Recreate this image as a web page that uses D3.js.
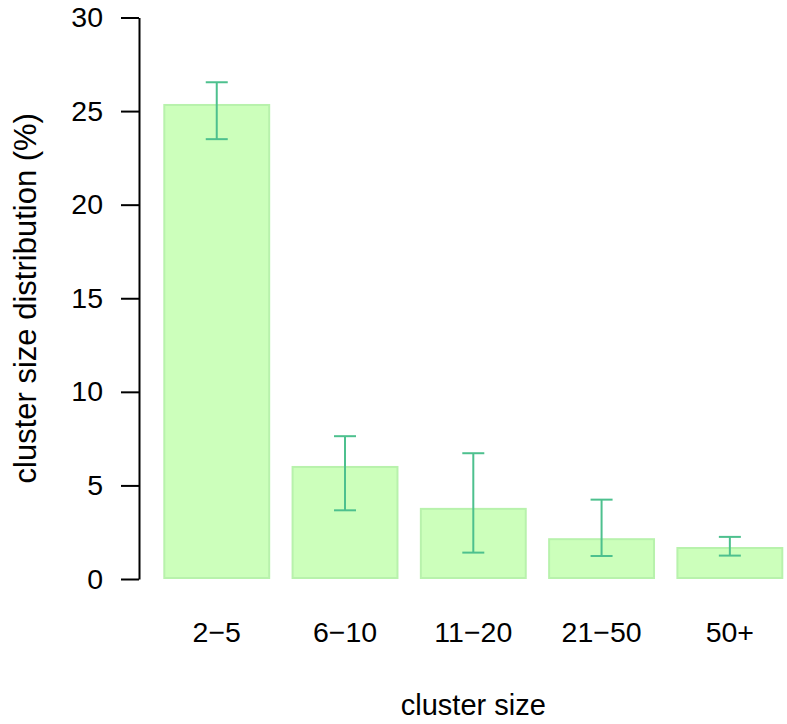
<!DOCTYPE html>
<html>
<head>
<meta charset="utf-8">
<script src="https://cdn.jsdelivr.net/npm/d3@7"></script>
<style>
  body { margin: 0; background: #fff; }
  svg text { font-family: "Liberation Sans", Arial, sans-serif; fill: #000; }
</style>
</head>
<body>
<div id="chart"></div>
<script>
// cluster size distribution
var categories = ["2\u22125", "6\u221210", "11\u221220", "21\u221250", "50+"];
var values = [25.38, 6.04, 3.80, 2.18, 1.71];
var err_lo = [23.50, 3.67, 1.41, 1.23, 1.25];
var err_hi = [26.54, 7.63, 6.72, 4.24, 2.25];
var y_ticks = [0, 5, 10, 15, 20, 25, 30];

var W = 787, H = 724;
var font_size = 28.5;

var svg = d3.select("#chart").append("svg")
    .attr("width", W)
    .attr("height", H);

var y = d3.scaleLinear()
    .domain([0, 30])
    .range([579, 17.5]);

// bars (R barplot style, space 0.2)
var x = d3.scaleBand()
    .domain(categories)
    .range([163.3, 783.3])
    .paddingInner(0.2 / 1.2)
    .paddingOuter(0);

var mid = function(c){ return x(c) + x.bandwidth() / 2; };

var data = categories.map(function(c, i){
    return { cat: c, val: values[i], lo: err_lo[i], hi: err_hi[i] };
});

// bars
svg.append("g")
    .selectAll("rect")
    .data(data)
    .enter()
    .append("rect")
    .attr("x", function(d){ return x(d.cat) + 1; })
    .attr("y", function(d){ return y(d.val) + 1; })
    .attr("width", x.bandwidth() - 2)
    .attr("height", function(d){ return y(0) - y(d.val) - 2; })
    .attr("fill", "#ccffbb")
    .attr("stroke", "#b8f2ac")
    .attr("stroke-width", 2);

// error bars
var cap = 11;
var eb = svg.append("g")
    .attr("stroke", "#4dc08e")
    .attr("stroke-width", 2)
    .selectAll("g")
    .data(data)
    .enter()
    .append("g");

eb.append("line")
    .attr("x1", function(d){ return mid(d.cat); })
    .attr("x2", function(d){ return mid(d.cat); })
    .attr("y1", function(d){ return y(d.lo); })
    .attr("y2", function(d){ return y(d.hi); });

eb.append("line")
    .attr("x1", function(d){ return mid(d.cat) - cap; })
    .attr("x2", function(d){ return mid(d.cat) + cap; })
    .attr("y1", function(d){ return y(d.hi); })
    .attr("y2", function(d){ return y(d.hi); });

eb.append("line")
    .attr("x1", function(d){ return mid(d.cat) - cap; })
    .attr("x2", function(d){ return mid(d.cat) + cap; })
    .attr("y1", function(d){ return y(d.lo); })
    .attr("y2", function(d){ return y(d.lo); });

// y axis
var yaxis = svg.append("g")
    .attr("transform", "translate(139,0)")
    .call(d3.axisLeft(y)
          .tickValues(y_ticks)
          .tickSize(18)
          .tickPadding(18)
          .tickSizeOuter(0));

yaxis.select(".domain")
    .attr("stroke", "#000")
    .attr("stroke-width", 2);
yaxis.selectAll(".tick line")
    .attr("stroke", "#000")
    .attr("stroke-width", 2);
yaxis.selectAll(".tick text")
    .style("font-size", font_size + "px")
    .style("font-family", "'Liberation Sans', Arial, sans-serif");

// category labels, under each bar
svg.append("g")
    .selectAll("text")
    .data(categories)
    .enter()
    .append("text")
    .attr("x", function(d){ return mid(d); })
    .attr("y", 642)
    .attr("text-anchor", "middle")
    .style("font-size", font_size + "px")
    .text(function(d){ return d; });

// axis titles
svg.append("text")
    .attr("x", (x.range()[0] + x.range()[1]) / 2)
    .attr("y", 715)
    .attr("text-anchor", "middle")
    .style("font-size", "29px")
    .text("cluster size");

svg.append("text")
    .attr("transform", "translate(36," + ((y(0) + y(30)) / 2) + ") rotate(-90)")
    .attr("text-anchor", "middle")
    .style("font-size", "31px")
    .text("cluster size distribution (%)");
</script>
</body>
</html>
